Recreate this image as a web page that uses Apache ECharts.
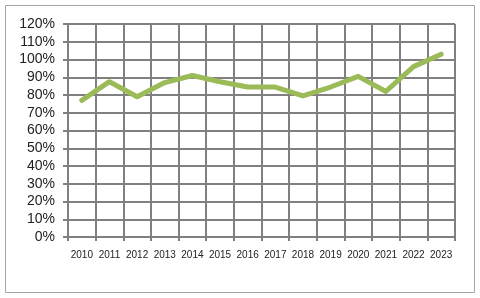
<!DOCTYPE html>
<html><head><meta charset="utf-8">
<script src="https://cdn.jsdelivr.net/npm/echarts@6/dist/echarts.min.js"></script>
<style>html,body{margin:0;padding:0;background:#fff}#c{width:480px;height:298px}</style>
</head><body><div id="c"></div>
<script>
var years = ['2010','2011','2012','2013','2014','2015','2016','2017','2018','2019','2020','2021','2022','2023'];
var values = [77, 87.5, 79, 87, 91, 87.5, 84.5, 84.5, 79.5, 84.5, 90.5, 82, 96, 103];
var chart = echarts.init(document.getElementById('c'));
chart.setOption({
  animation: false,
  backgroundColor: '#fff',
  graphic: [{type:'rect', shape:{x:5.5,y:5.5,width:469,height:287}, style:{fill:'none', stroke:'#a6a6a6', lineWidth:1}, z:-1}],
  grid: {left: 68, right: 25, top: 24, bottom: 61},
  xAxis: {
    type: 'category', data: years, boundaryGap: true,
    axisLine: {lineStyle: {color: '#808080', width: 2}},
    axisTick: {show: true, length: 4, lineStyle: {color: '#808080', width: 2}},
    splitLine: {show: true, lineStyle: {color: '#808080', width: 2}},
    axisLabel: {color: '#222', fontSize: 10, fontFamily: 'Liberation Sans', margin: 13, interval: 0}
  },
  yAxis: {
    type: 'value', min: 0, max: 120, interval: 10,
    axisLine: {show: true, lineStyle: {color: '#808080', width: 2}},
    axisTick: {show: true, length: 5, lineStyle: {color: '#808080', width: 2}},
    splitLine: {show: true, lineStyle: {color: '#808080', width: 2}},
    axisLabel: {formatter: '{value}%', color: '#222', fontSize: 14, fontFamily: 'Liberation Sans', margin: 13}
  },
  series: [{
    type: 'line', data: values, showSymbol: false, symbol: 'none',
    lineStyle: {color: '#9bbb59', width: 5, join: 'round', cap: 'round'}
  }]
});
</script></body></html>
